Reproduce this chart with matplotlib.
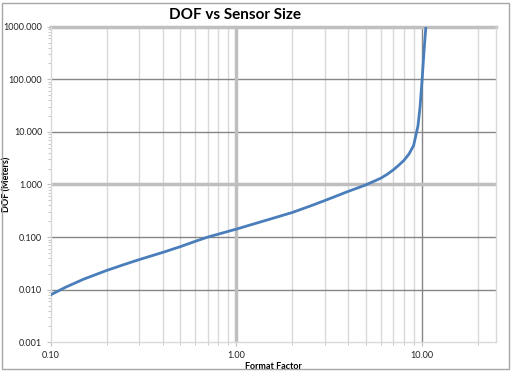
import matplotlib
matplotlib.use("Agg")
import matplotlib.pyplot as plt
from matplotlib.patches import Rectangle
from matplotlib.ticker import FixedLocator, FixedFormatter, NullFormatter, LogLocator

plt.rcParams['font.family'] = ['Lato', 'DejaVu Sans']

# values
format_factor = [0.10, 0.12, 0.15, 0.20, 0.25, 0.30, 0.40, 0.50, 0.60, 0.70, 1.0, 1.2, 1.5,
                 2.0, 2.5, 3.0, 3.5, 4.0, 4.5, 5.0, 5.5, 6.0, 6.5, 7.0, 7.5, 8.0, 8.5,
                 9.0, 9.5, 9.75, 10.0, 10.25, 10.5, 10.6]
dof_m = [0.0080, 0.0111, 0.0158, 0.0232, 0.0303, 0.0374, 0.051, 0.066, 0.083, 0.100, 0.142,
         0.172, 0.217, 0.294, 0.39, 0.497, 0.615, 0.74, 0.86, 0.99, 1.15, 1.32, 1.57,
         1.9, 2.34, 2.9, 3.8, 5.5, 13, 30, 98, 360, 1100, 2000]

x_ticks = [0.1, 1, 10]
x_labels = ['0.10', '1.00', '10.00']
y_ticks = [0.001, 0.01, 0.1, 1, 10, 100, 1000]
y_labels = ['0.001', '0.010', '0.100', '1.000', '10.000', '100.000', '1000.000']

W, H = 513, 372
fig = plt.figure(figsize=(W / 100, H / 100), dpi=100)
ax = fig.add_axes([50.7 / W, 1 - 342.3 / H, (496 - 50.7) / W, (342.3 - 26.7) / H])

ax.set_xscale('log')
ax.set_yscale('log')
ax.set_xlim(0.1, 25)
ax.set_ylim(0.001, 1000)

light = '#D9D9D9'
dark = '#868686'
axis_grey = '#BFBFBF'

# minor vertical gridlines
for dec in [0.1, 1, 10]:
    for k in range(2, 10):
        v = dec * k
        if v < 25:
            ax.axvline(v, color=light, lw=1, zorder=1)
# major horizontal gridlines
for v in [0.01, 0.1, 10, 100]:
    ax.axhline(v, color=dark, lw=1, zorder=2)
ax.axvline(10, color=dark, lw=1, zorder=2)
# axis lines crossing at 1, and top border
ax.axhline(1, color=axis_grey, lw=2.5, zorder=2)
ax.axvline(1, color=axis_grey, lw=2.5, zorder=2)
ax.axhline(1000, color=axis_grey, lw=2.5, zorder=2, clip_on=False)

ax.plot(format_factor, dof_m, color='#4A7EBB', lw=2, zorder=3)

for s in ['left', 'bottom', 'right']:
    ax.spines[s].set_color(light)
    ax.spines[s].set_linewidth(1)
ax.spines['top'].set_visible(False)

ax.xaxis.set_major_locator(FixedLocator(x_ticks))
ax.xaxis.set_major_formatter(FixedFormatter(x_labels))
ax.xaxis.set_minor_locator(LogLocator(base=10, subs=range(2, 10)))
ax.xaxis.set_minor_formatter(NullFormatter())
ax.yaxis.set_major_locator(FixedLocator(y_ticks))
ax.yaxis.set_major_formatter(FixedFormatter(y_labels))
ax.yaxis.set_minor_locator(LogLocator(base=10, subs=range(2, 10)))
ax.yaxis.set_minor_formatter(NullFormatter())

ax.tick_params(which='both', direction='out', color=axis_grey, labelsize=6.5,
               labelcolor='#222222')
ax.tick_params(which='major', length=3, pad=3)
ax.tick_params(which='minor', length=2)

ax.set_xlabel('Format Factor', fontsize=6.5, fontweight='bold')
ax.set_ylabel('DOF (Meters)', fontsize=6.5, fontweight='bold')
ax.xaxis.set_label_coords(0.5, -(362 - 342.3) / 315.6)
ax.yaxis.set_label_coords(-(50.7 - 11) / 445.3, 0.5)
fig.text(235 / W, 1 - 15 / H, 'DOF vs Sensor Size', ha='center', va='center',
         fontsize=11, fontweight='bold')

fig.patches.append(Rectangle((2 / W, 3 / H), (509 - 2) / W, (369 - 3) / H,
                             transform=fig.transFigure, fill=False,
                             edgecolor='#A6A6A6', lw=1))

fig.savefig('out.png', dpi=100)
